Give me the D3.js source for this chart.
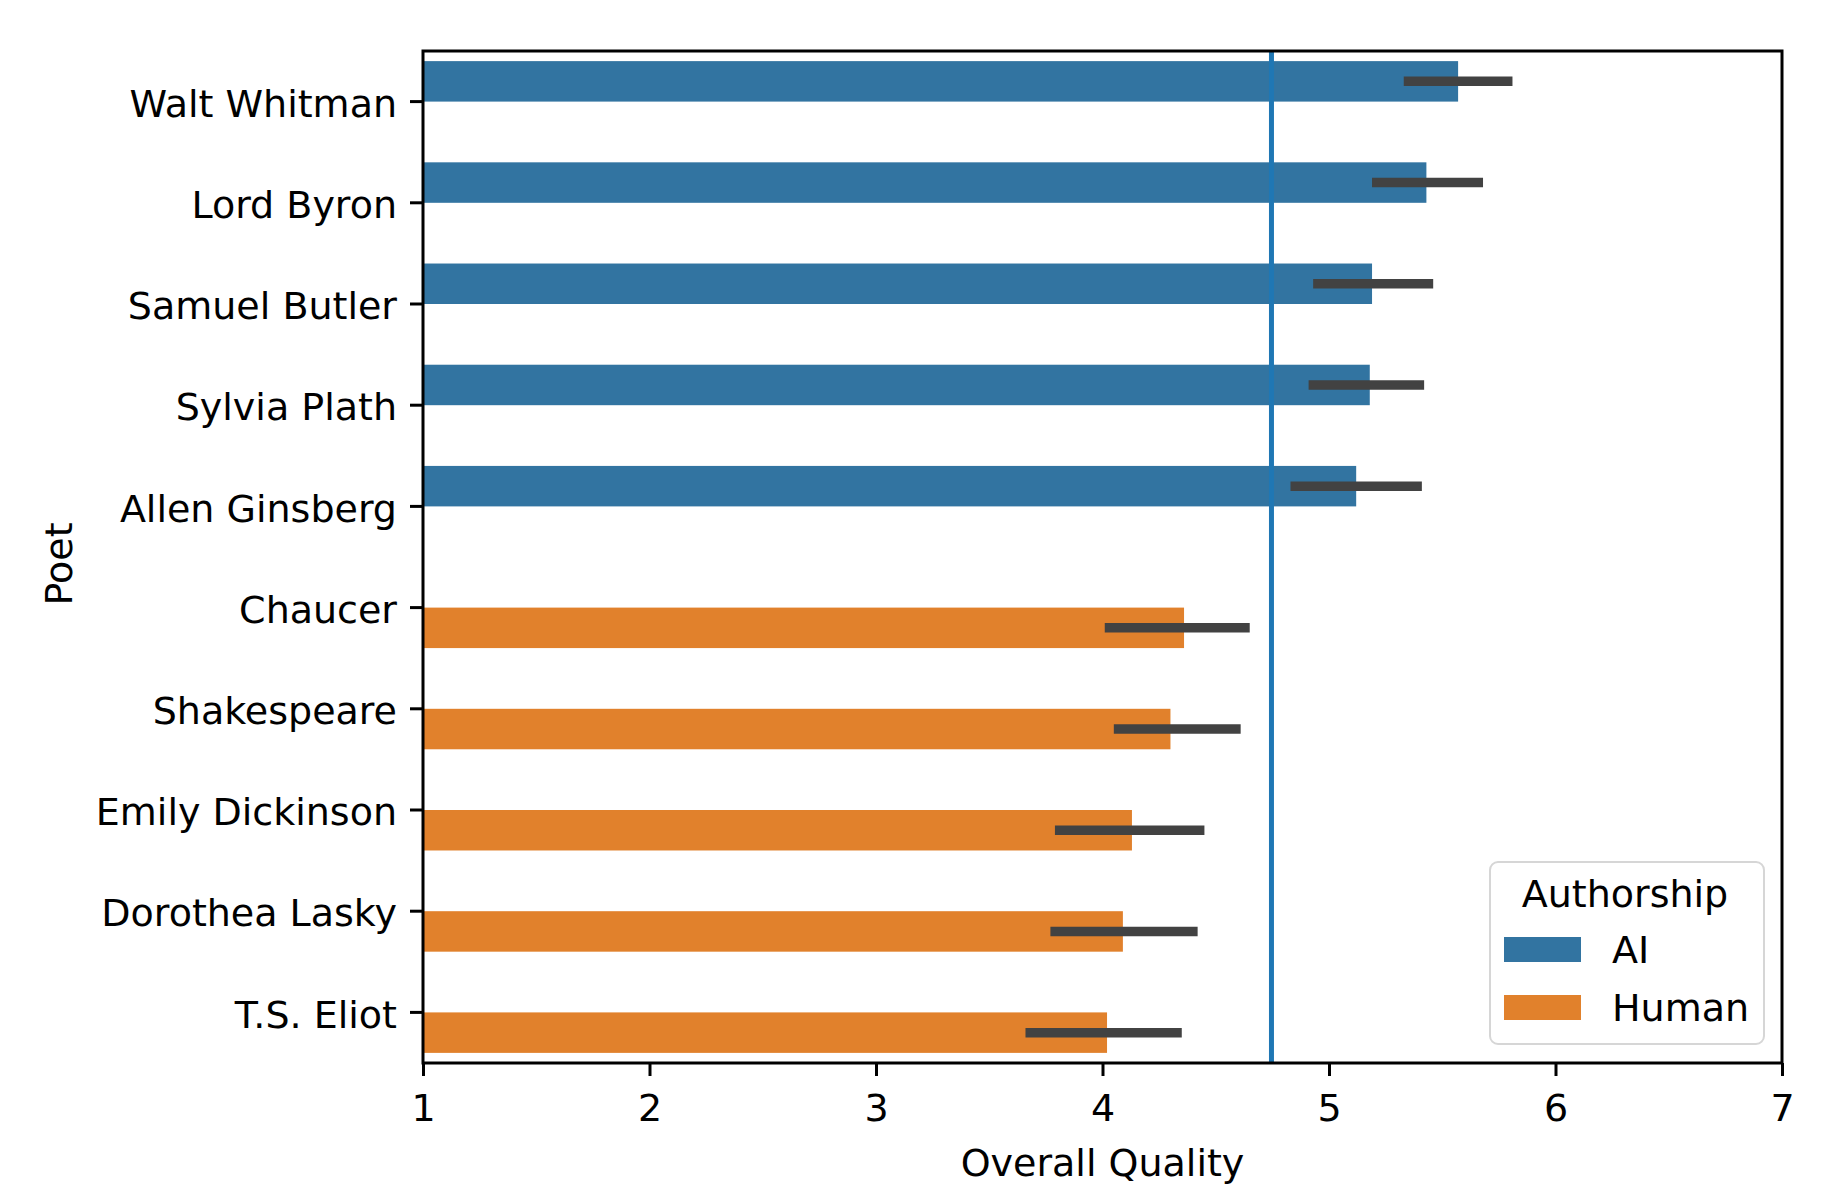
<!DOCTYPE html>
<html>
<head>
<meta charset="utf-8">
<script src="https://cdn.jsdelivr.net/npm/d3@7"></script>
<style>
  body { margin: 0; background: #fff; }
  svg { display: block; font-family: "DejaVu Sans", sans-serif; }
</style>
</head>
<body>
<svg id="chart" width="1838" height="1200"></svg>
<script>
// data
const poets = ["Walt Whitman", "Lord Byron", "Samuel Butler", "Sylvia Plath", "Allen Ginsberg",
               "Chaucer", "Shakespeare", "Emily Dickinson", "Dorothea Lasky", "T.S. Eliot"];
const authorship = ["AI", "AI", "AI", "AI", "AI", "Human", "Human", "Human", "Human", "Human"];
const means  = [5.57, 5.43, 5.19, 5.18, 5.12, 4.36, 4.30, 4.13, 4.09, 4.02];
const ciLow  = [5.33, 5.19, 4.93, 4.91, 4.83, 4.01, 4.05, 3.79, 3.77, 3.66];
const ciHigh = [5.81, 5.68, 5.46, 5.42, 5.41, 4.65, 4.61, 4.45, 4.42, 4.35];
const groups = ["AI", "Human"];
const xTicks = [1, 2, 3, 4, 5, 6, 7];
const refLine = 4.746;

const margin = { top: 51, right: 56, bottom: 137, left: 423 };
const width = 1838 - margin.left - margin.right;
const height = 1200 - margin.top - margin.bottom;
const fontSize = 38;

const color = d3.scaleOrdinal().domain(groups).range(["#3274a1", "#e1812c"]);

const svg = d3.select("#chart");
svg.append("rect").attr("width", 1838).attr("height", 1200).attr("fill", "#fff");

const g = svg.append("g")
    .attr("transform", `translate(${margin.left},${margin.top})`);

const x = d3.scaleLinear().domain([1, 7]).range([0, width]);
const y = d3.scaleBand().domain(poets).range([0, height]).padding(0);
const step = y.step();

const data = poets.map((p, i) => ({
    poet: p, group: authorship[i], mean: means[i], lo: ciLow[i], hi: ciHigh[i]
}));

// hue dodge: AI takes upper half of the 0.8 band, Human the lower half
const barTop = d => y(d.poet) + step / 2 + (d.group === "AI" ? -0.4 * step : 0);
const barMid = d => barTop(d) + 0.2 * step;

g.selectAll("rect.bar")
    .data(data)
    .enter()
    .append("rect")
    .attr("class", "bar")
    .attr("x", x(1))
    .attr("y", barTop)
    .attr("width", d => x(d.mean) - x(1))
    .attr("height", 0.4 * step)
    .attr("fill", d => color(d.group));

g.selectAll("line.err")
    .data(data)
    .enter()
    .append("line")
    .attr("class", "err")
    .attr("x1", d => x(d.lo))
    .attr("x2", d => x(d.hi))
    .attr("y1", barMid)
    .attr("y2", barMid)
    .attr("stroke", "#424242")
    .attr("stroke-width", 9.5);

g.append("line")
    .attr("x1", x(refLine))
    .attr("x2", x(refLine))
    .attr("y1", 0)
    .attr("y2", height)
    .attr("stroke", "#1f77b4")
    .attr("stroke-width", 5);

// axes
const xAxis = g.append("g")
    .attr("transform", `translate(0,${height})`)
    .call(d3.axisBottom(x).tickValues(xTicks).tickFormat(d3.format("d"))
        .tickSize(13).tickPadding(18));

const yAxis = g.append("g")
    .call(d3.axisLeft(y).tickSize(13).tickPadding(13));

[xAxis, yAxis].forEach(a => {
    a.select(".domain").remove();
    a.selectAll(".tick line").attr("stroke", "#000").attr("stroke-width", 3);
    a.selectAll(".tick text")
        .attr("fill", "#000")
        .style("font-size", fontSize + "px")
        .style("font-family", "DejaVu Sans");
});
yAxis.selectAll(".tick text").attr("dy", "0.4em");

// frame
g.append("rect")
    .attr("x", 0).attr("y", 0)
    .attr("width", width).attr("height", height)
    .attr("fill", "none")
    .attr("stroke", "#000")
    .attr("stroke-width", 3);

g.append("text")
    .attr("x", width / 2)
    .attr("y", height + 113)
    .attr("text-anchor", "middle")
    .style("font-size", fontSize + "px")
    .text("Overall Quality");

g.append("text")
    .attr("transform", "rotate(-90)")
    .attr("x", -height / 2 - 7)
    .attr("y", -margin.left + 72)
    .attr("text-anchor", "middle")
    .style("font-size", fontSize + "px")
    .text("Poet");

// legend
const legend = svg.append("g").attr("transform", "translate(1490,862)");
legend.append("rect")
    .attr("width", 274).attr("height", 182)
    .attr("rx", 8)
    .attr("fill", "#fff")
    .attr("fill-opacity", 0.8)
    .attr("stroke", "#d6d6d6")
    .attr("stroke-width", 2);

legend.append("text")
    .attr("x", 135)
    .attr("y", 45)
    .attr("text-anchor", "middle")
    .style("font-size", fontSize + "px")
    .text("Authorship");

const item = legend.selectAll("g.item")
    .data(groups)
    .enter()
    .append("g")
    .attr("class", "item")
    .attr("transform", (d, i) => `translate(14,${75 + i * 58})`);

item.append("rect")
    .attr("width", 77).attr("height", 25)
    .attr("fill", d => color(d));

item.append("text")
    .attr("x", 108)
    .attr("y", 26)
    .style("font-size", fontSize + "px")
    .text(d => d);
</script>
</body>
</html>
